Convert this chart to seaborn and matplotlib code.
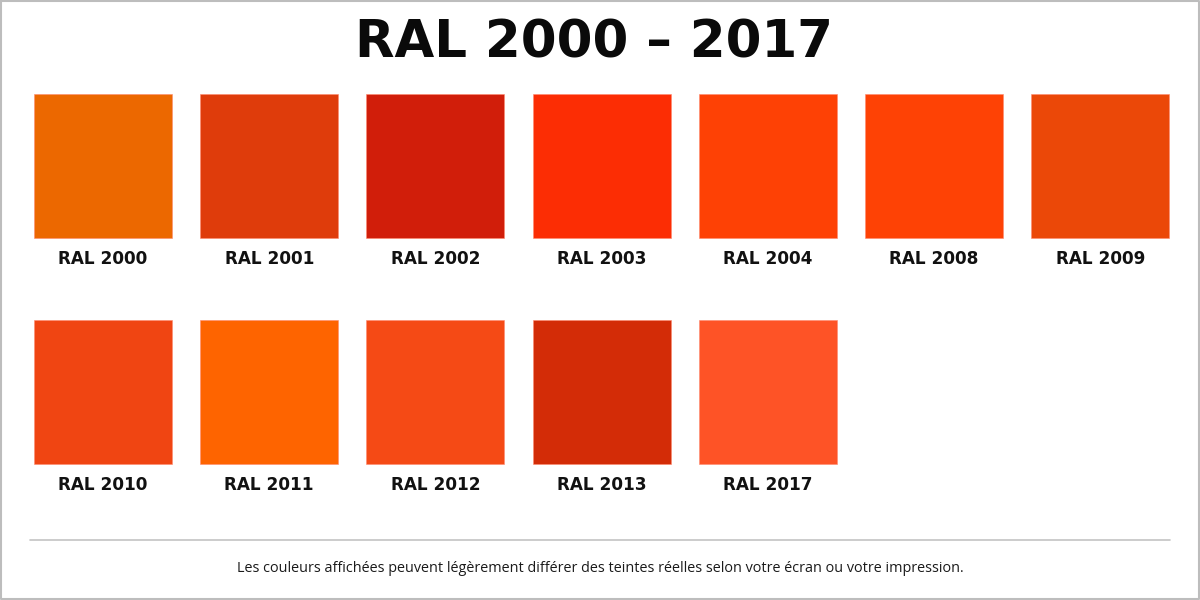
import seaborn as sns
import pandas as pd
import numpy as np
import matplotlib.pyplot as plt

# RAL swatch data
codes = ['RAL 2000', 'RAL 2001', 'RAL 2002', 'RAL 2003', 'RAL 2004', 'RAL 2008', 'RAL 2009',
         'RAL 2010', 'RAL 2011', 'RAL 2012', 'RAL 2013', 'RAL 2017']
hex_colors = ['#EC6800', '#DF3C0B', '#D11E0A', '#FC2D04', '#FE4105', '#FE4205', '#EB4808',
              '#F04512', '#FE6400', '#F54A15', '#D32C07', '#FE5326']
grid_col = [0, 1, 2, 3, 4, 5, 6, 0, 1, 2, 3, 4]
grid_row = [0, 0, 0, 0, 0, 0, 0, 1, 1, 1, 1, 1]

title = 'RAL 2000 – 2017'
footer = 'Les couleurs affichées peuvent légèrement différer des teintes réelles selon votre écran ou votre impression.'

df = pd.DataFrame({'code': codes, 'color': hex_colors, 'col': grid_col, 'row': grid_row})

sns.set_theme(style='white')
plt.rcParams['font.family'] = ['DejaVu Sans']

fig = plt.figure(figsize=(12, 6), dpi=100)
ax = fig.add_axes([0, 0, 1, 1])
ax.set_xlim(0, 1200)
ax.set_ylim(600, 0)
ax.axis('off')

# layout in pixels
x0, dx, sw = 103, 166.2, 138
y0, dy, sh = 94, 226, 144

df['x'] = x0 + df['col'] * dx
df['y'] = y0 + df['row'] * dy

ax.bar(df['x'], sh, bottom=df['y'], width=sw, color=df['color'],
       edgecolor='#ff8a70', linewidth=0.4, align='center')

for _, r in df.iterrows():
    ax.text(r['x'], r['y'] + sh + 20.5, r['code'], ha='center', va='center',
            fontsize=12.2, fontweight='bold', color='#111111')

ax.text(594, 44, title, ha='center', va='center', fontsize=37,
        fontweight='bold', color='#0a0a0a')

ax.plot([30, 1170], [540, 540], color='#c4c4c4', lw=1.2)
ax.text(600, 568, footer, ha='center', va='center', fontsize=10.4,
        color='#1a1a1a', family=['Open Sans', 'DejaVu Sans'])

# thin border around the picture
ax.plot([1, 1199, 1199, 1, 1], [1, 1, 599, 599, 1], color='#bdbdbd', lw=1.5)

fig.savefig('out.png', dpi=100, facecolor='white')
